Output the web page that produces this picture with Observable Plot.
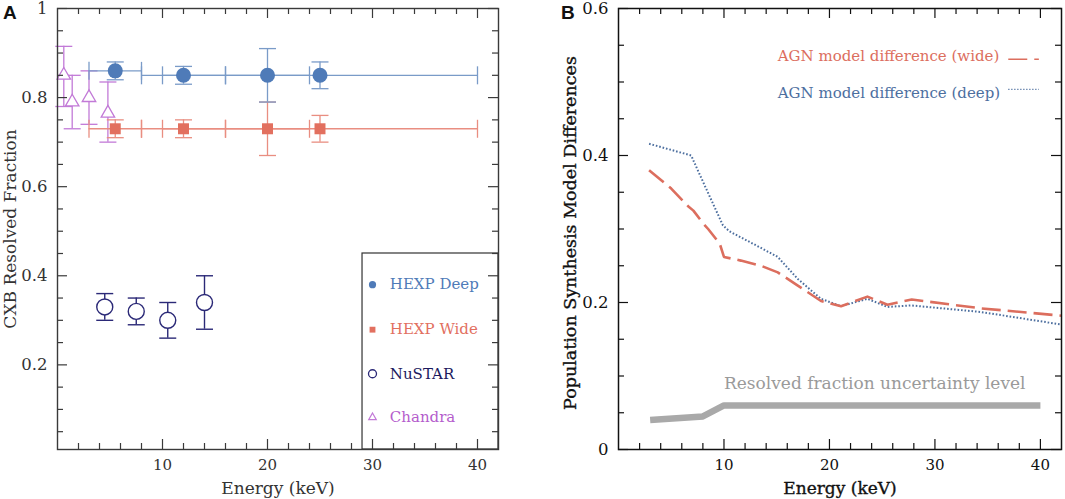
<!DOCTYPE html>
<html><head><meta charset="utf-8">
<script src="https://cdn.jsdelivr.net/npm/d3@7"></script>
<script src="https://cdn.jsdelivr.net/npm/@observablehq/plot@0.6"></script>
<style>
body{margin:0;background:#fff;}
#wrap{position:relative;width:1065px;height:499px;overflow:hidden;background:#fff;}
#a,#b{position:absolute;top:0;}
#a{left:0;} #b{left:530px;}
.lett{position:absolute;font-family:"Liberation Sans",Arial,sans-serif;font-weight:bold;font-size:19px;color:#111;line-height:1;}
</style></head><body>
<div id="wrap"><div id="a"></div><div id="b"></div>
<div class="lett" style="left:3px;top:3px">A</div><div class="lett" style="left:561px;top:3px">B</div></div>
<script>
// ---------- Panel A data ----------
const hexpE      = [5.5, 12, 20, 25];
const hexpBandLo = [3, 8, 16, 10];
const hexpBandHi = [8, 16, 24, 40];
const deepFrac   = [0.86, 0.85, 0.85, 0.85];
const deepErr    = [0.02, 0.02, 0.06, 0.03];
const wideFrac   = [0.73, 0.73, 0.73, 0.73];
const wideErr    = [0.02, 0.02, 0.06, 0.03];
const nustarE    = [4.5, 7.5, 10.5, 14];
const nustarFrac = [0.33, 0.32, 0.30, 0.34];
const nustarErr  = [0.03, 0.03, 0.04, 0.06];
const chandraE   = [0.6, 1.4, 3.0, 4.8];
const chandraFrac= [0.85, 0.79, 0.80, 0.765];
const chandraLo  = [0.78, 0.73, 0.74, 0.70];
const chandraHi  = [0.915, 0.85, 0.86, 0.835];
const legendNames = ["HEXP Deep", "HEXP Wide", "NuSTAR", "Chandra"];

// ---------- Panel B data ----------
const wideModelE = [2.9, 5, 6.6, 7.1, 8, 8.5, 9.6, 10, 11.6, 13.5, 15.1, 17, 19.2, 21.1, 23.6, 25.5, 27.8, 34.4, 42];
const wideModelD = [0.380, 0.355, 0.331, 0.325, 0.308, 0.300, 0.280, 0.262, 0.257, 0.250, 0.241, 0.223, 0.202, 0.195, 0.208, 0.197, 0.204, 0.192, 0.182];
const deepModelE = [2.9, 6.9, 7.2, 8.4, 9.9, 10.5, 13.8, 15.1, 17, 19.2, 21.1, 23.6, 25.5, 27.8, 34.4, 42];
const deepModelD = [0.416, 0.400, 0.390, 0.352, 0.305, 0.297, 0.272, 0.262, 0.232, 0.205, 0.195, 0.205, 0.194, 0.196, 0.187, 0.170];
const uncE = [3, 8, 10, 40];
const uncV = [0.040, 0.045, 0.060, 0.060];
const bLabels = ["AGN model difference (wide)", "AGN model difference (deep)", "Resolved fraction uncertainty level"];

// ---------- ticks ----------
const xMajor = [10, 20, 30, 40];
const xMinor = [2, 4, 6, 8, 12, 14, 16, 18, 22, 24, 26, 28, 32, 34, 36, 38];
const yMajorA = [0.2, 0.4, 0.6, 0.8, 1];
const yMinorA = [0.05, 0.1, 0.15, 0.25, 0.3, 0.35, 0.45, 0.5, 0.55, 0.65, 0.7, 0.75, 0.85, 0.9, 0.95];
const yMajorB = [0, 0.2, 0.4, 0.6];
const yMinorB = [0.05, 0.1, 0.15, 0.25, 0.3, 0.35, 0.45, 0.5, 0.55];

// ---------- helpers ----------
const hcap = {draw(ctx, size) { const r = Math.sqrt(size / Math.PI); ctx.moveTo(-r, 0); ctx.lineTo(r, 0); }};
const vcap = {draw(ctx, size) { const r = Math.sqrt(size / Math.PI); ctx.moveTo(0, -r); ctx.lineTo(0, r); }};

// inward ticks on all four sides; lengths given in pixels, converted to data units
function frameTicks(xDom, yDom, W, H, yMajor, yMinor, color) {
  const L = 10, l = 6, sw = 1.2;
  const ky = (yDom[1] - yDom[0]) / H, kx = (xDom[1] - xDom[0]) / W;
  const id = d => d;
  const o = {stroke: color, strokeWidth: sw};
  const xt = (arr, len) => [
    Plot.ruleX(arr, {x: id, y1: () => yDom[0], y2: () => yDom[0] + len * ky, ...o}),
    Plot.ruleX(arr, {x: id, y1: () => yDom[1], y2: () => yDom[1] - len * ky, ...o})
  ];
  const yt = (arr, len) => [
    Plot.ruleY(arr, {y: id, x1: () => xDom[0], x2: () => xDom[0] + len * kx, ...o}),
    Plot.ruleY(arr, {y: id, x1: () => xDom[1], x2: () => xDom[1] - len * kx, ...o})
  ];
  return [...xt(xMajor, L), ...xt(xMinor, l), ...yt(yMajor, L), ...yt(yMinor, l)];
}

function hexpMarks(frac, err, lineColor, markColor, symbol, r) {
  const rows = hexpE.map((e, i) => ({e, f: frac[i], err: err[i], lo: hexpBandLo[i], hi: hexpBandHi[i]}));
  return [
    Plot.ruleY(rows, {y: "f", x1: "lo", x2: "hi", stroke: lineColor, strokeWidth: 1.3}),
    Plot.dot(rows, {x: "lo", y: "f", symbol: vcap, r: 9, stroke: lineColor, fill: "none", strokeWidth: 1.3}),
    Plot.dot(rows, {x: "hi", y: "f", symbol: vcap, r: 9, stroke: lineColor, fill: "none", strokeWidth: 1.3}),
    Plot.ruleX(rows, {x: "e", y1: d => d.f - d.err, y2: d => d.f + d.err, stroke: lineColor, strokeWidth: 1.3}),
    Plot.dot(rows, {x: "e", y: d => d.f - d.err, symbol: hcap, r: 8.5, stroke: lineColor, fill: "none", strokeWidth: 1.3}),
    Plot.dot(rows, {x: "e", y: d => d.f + d.err, symbol: hcap, r: 8.5, stroke: lineColor, fill: "none", strokeWidth: 1.3}),
    Plot.dot(rows, {x: "e", y: "f", symbol, r, fill: markColor, stroke: "none"})
  ];
}

const C = {
  deep: "#4f7bb8", deepLine: "#7a9bc8",
  wide: "#e2705f", wideLine: "#e98e81",
  nustar: "#2b2977", nustarText: "#1c1a5e",
  chandra: "#c27ad7", chandraText: "#b45ccc",
  redB: "#dc6e5e", blueB: "#4d6f9f", gray: "#a9a9a9"
};

// ---------- Panel A ----------
const WA = 530, HA = 499, mA = {l: 57, r: 32, t: 8, b: 50};
const xDomA = [0, 42], yDomA = [0.01, 1];
const nuRows = nustarE.map((e, i) => ({e, f: nustarFrac[i], lo: nustarFrac[i] - nustarErr[i], hi: nustarFrac[i] + nustarErr[i]}));
const chRows = chandraE.map((e, i) => ({e, f: chandraFrac[i], lo: chandraLo[i], hi: chandraHi[i]}));
// legend layout (data units of panel A)
const legA = {box: [29.05, 42, 0.01, 0.45], markX: 30, textX: 31.65, rows: [0.380, 0.279, 0.180, 0.082]};
const legRows = legendNames.map((name, i) => ({name, y: legA.rows[i]}));

const plotA = Plot.plot({
  width: WA, height: HA,
  marginLeft: mA.l, marginRight: mA.r, marginTop: mA.t, marginBottom: mA.b,
  x: {domain: xDomA},
  y: {domain: yDomA},
  style: {fontFamily: '"DejaVu Serif", serif', background: "white", overflow: "visible", color: "#333"},
  marks: [
    // legend box
    Plot.rect([0], {x1: () => legA.box[0], x2: () => legA.box[1], y1: () => legA.box[2], y2: () => legA.box[3], fill: "white", stroke: "#333", strokeWidth: 1.2}),
    // Chandra
    Plot.ruleX(chRows, {x: "e", y1: "lo", y2: "hi", stroke: C.chandra, strokeWidth: 1.3}),
    Plot.dot(chRows, {x: "e", y: "lo", symbol: hcap, r: 8.5, stroke: C.chandra, fill: "none", strokeWidth: 1.3}),
    Plot.dot(chRows, {x: "e", y: "hi", symbol: hcap, r: 8.5, stroke: C.chandra, fill: "none", strokeWidth: 1.3}),
    ...hexpMarks(wideFrac, wideErr, C.wideLine, C.wide, "square", 6.2),
    ...hexpMarks(deepFrac, deepErr, C.deepLine, C.deep, "circle", 7.5),
    Plot.dot(chRows, {x: "e", y: "f", symbol: "triangle", r: 5, stroke: C.chandra, fill: "white", strokeWidth: 1.3}),
    // NuSTAR
    Plot.ruleX(nuRows, {x: "e", y1: "lo", y2: "hi", stroke: C.nustar, strokeWidth: 1.4}),
    Plot.dot(nuRows, {x: "e", y: "lo", symbol: hcap, r: 8.5, stroke: C.nustar, fill: "none", strokeWidth: 1.4}),
    Plot.dot(nuRows, {x: "e", y: "hi", symbol: hcap, r: 8.5, stroke: C.nustar, fill: "none", strokeWidth: 1.4}),
    Plot.dot(nuRows, {x: "e", y: "f", r: 8, stroke: C.nustar, fill: "white", strokeWidth: 1.4}),
    // legend entries
    Plot.dot([legRows[0]], {x: () => legA.markX, y: "y", r: 3.6, fill: C.deep, stroke: "none"}),
    Plot.dot([legRows[1]], {x: () => legA.markX, y: "y", symbol: "square", r: 3.3, fill: C.wide, stroke: "none"}),
    Plot.dot([legRows[2]], {x: () => legA.markX, y: "y", r: 4, fill: "none", stroke: C.nustar, strokeWidth: 1.3}),
    Plot.dot([legRows[3]], {x: () => legA.markX, y: "y", symbol: "triangle", r: 2.8, fill: "none", stroke: C.chandra, strokeWidth: 1.2}),
    Plot.text(legRows, {x: () => legA.textX, y: "y", text: "name", textAnchor: "start", fontSize: 15,
      fill: (d, i) => [C.deep, C.wide, C.nustarText, C.chandraText][i]}),
    // frame, ticks, axes
    Plot.frame({stroke: "#3a3a3a", strokeWidth: 1.4}),
    ...frameTicks(xDomA, yDomA, WA - mA.l - mA.r, HA - mA.t - mA.b, yMajorA, yMinorA, "#3a3a3a"),
    Plot.axisX(xMajor, {tickSize: 0, tickPadding: 10, fontSize: 15, label: null, fill: "#333"}),
    Plot.axisY(yMajorA, {tickSize: 0, tickPadding: 10, fontSize: 16.5, label: null, tickFormat: d => String(d), fill: "#333"}),
    Plot.text(["Energy (keV)"], {text: d => d, frameAnchor: "bottom", textAnchor: "middle", lineAnchor: "middle", dy: 39, fontSize: 17, fill: "#333"}),
    Plot.text(["CXB Resolved Fraction"], {text: d => d, frameAnchor: "left", textAnchor: "middle", lineAnchor: "middle", rotate: -90, dx: -47, fontSize: 17, fill: "#333"})
  ]
});
document.getElementById("a").appendChild(plotA);

// ---------- Panel B ----------
const WB = 535, HB = 499, mB = {l: 88, r: 4, t: 8, b: 50};
const xDomB = [0, 42], yDomB = [0, 0.6];
const wideRows = wideModelE.map((e, i) => ({e, d: wideModelD[i]}));
const deepRows = deepModelE.map((e, i) => ({e, d: deepModelD[i]}));
const uncRows = uncE.map((e, i) => ({e, v: uncV[i]}));
// annotation layout (data units of panel B)
const legB = {textX: 15.1, wideY: 0.535, deepY: 0.485, sampleX1: 37.0, sampleX2: 39.9, wideSampleY: 0.531, deepSampleY: 0.490, uncX: 10, uncY: 0.09};

const plotB = Plot.plot({
  width: WB, height: HB,
  marginLeft: mB.l, marginRight: mB.r, marginTop: mB.t, marginBottom: mB.b,
  x: {domain: xDomB},
  y: {domain: yDomB},
  style: {fontFamily: '"DejaVu Serif", serif', background: "white", overflow: "visible", color: "#111"},
  marks: [
    Plot.line(uncRows, {x: "e", y: "v", stroke: C.gray, strokeWidth: 6.5, strokeLinecap: "butt", strokeLinejoin: "miter"}),
    Plot.line(deepRows, {x: "e", y: "d", stroke: C.blueB, strokeWidth: 2, strokeDasharray: "1.6,1.9", strokeLinecap: "butt"}),
    Plot.line(wideRows, {x: "e", y: "d", stroke: C.redB, strokeWidth: 2.6, strokeDasharray: "19,7", strokeLinecap: "butt"}),
    Plot.text([bLabels[0]], {text: d => d, x: () => legB.textX, y: () => legB.wideY, textAnchor: "start", fontSize: 15, fill: C.redB}),
    Plot.text([bLabels[1]], {text: d => d, x: () => legB.textX, y: () => legB.deepY, textAnchor: "start", fontSize: 15, fill: C.blueB}),
    Plot.ruleY([legB.wideSampleY], {y: d => d, x1: () => legB.sampleX1, x2: () => legB.sampleX2, stroke: C.redB, strokeWidth: 1.6, strokeDasharray: "19,7"}),
    Plot.ruleY([legB.deepSampleY], {y: d => d, x1: () => legB.sampleX1, x2: () => legB.sampleX2, stroke: C.blueB, strokeWidth: 1.2, strokeDasharray: "1.2,1.8"}),
    Plot.text([bLabels[2]], {text: d => d, x: () => legB.uncX, y: () => legB.uncY, textAnchor: "start", fontSize: 17, fill: "#9a9a9a"}),
    Plot.frame({stroke: "#111", strokeWidth: 1.5}),
    ...frameTicks(xDomB, yDomB, WB - mB.l - mB.r, HB - mB.t - mB.b, yMajorB, yMinorB, "#111"),
    Plot.axisX(xMajor, {tickSize: 0, tickPadding: 10, fontSize: 15, label: null, fill: "#111"}),
    Plot.axisY(yMajorB, {tickSize: 0, tickPadding: 10, fontSize: 16.5, label: null, tickFormat: d => String(d), fill: "#111"}),
    Plot.text(["Energy (keV)"], {text: d => d, frameAnchor: "bottom", textAnchor: "middle", lineAnchor: "middle", dy: 39, fontSize: 17, fill: "#111", stroke: "#111", strokeWidth: 0.35}),
    Plot.text(["Population Synthesis Model Differences"], {text: d => d, frameAnchor: "left", textAnchor: "middle", lineAnchor: "middle", rotate: -90, dx: -48, dy: 4, fontSize: 17.5, fill: "#111", stroke: "#111", strokeWidth: 0.35})
  ]
});
document.getElementById("b").appendChild(plotB);
</script>
</body></html>
